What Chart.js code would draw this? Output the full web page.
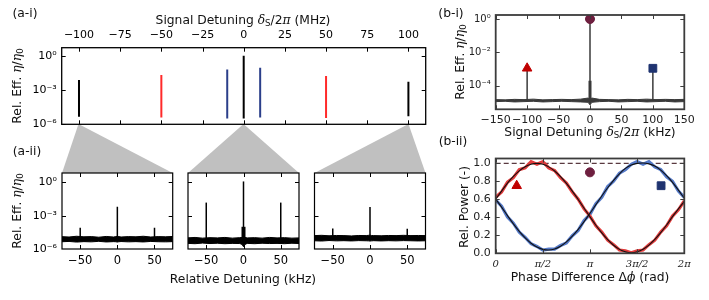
<!DOCTYPE html>
<html>
<head>
<meta charset="utf-8">
<script src="https://cdn.jsdelivr.net/npm/chart.js@4.4.1/dist/chart.umd.min.js"></script>
<style>
  html, body { margin: 0; padding: 0; background: #fff; }
  #fig { position: relative; width: 709px; height: 300px; overflow: hidden;
         font-family: 'DejaVu Sans', sans-serif; color: #111; }
  #fig canvas, #fig svg { position: absolute; left: 0; top: 0; }
  .lbl { position: absolute; font-size: 12.3px; white-space: nowrap; line-height: 1;
         transform: translate(-50%, -50%); }
  .rot { transform: translate(-50%, -50%) rotate(-90deg); }
  .m { font-family: 'DejaVu Serif', serif; font-style: italic; }
  sub { font-size: 70%; vertical-align: -0.3em; line-height: 0; }
</style>
</head>
<body>
<div id="fig">
  <svg width="709" height="300">
    <polygon points="78.5,124 62,173 172.7,173" fill="#c0c0c0"/>
    <polygon points="243.5,124 188,173 299,173" fill="#c0c0c0"/>
    <polygon points="408.5,124 314.5,173 425.5,173" fill="#c0c0c0"/>
  </svg>
  <canvas id="ai" width="709" height="300"></canvas>
  <canvas id="aii1" width="709" height="300"></canvas>
  <canvas id="aii2" width="709" height="300"></canvas>
  <canvas id="aii3" width="709" height="300"></canvas>
  <canvas id="bi" width="709" height="300"></canvas>
  <canvas id="bii" width="709" height="300"></canvas>

  <div class="lbl" style="left:25px;top:13px">(a-i)</div>
  <div class="lbl" style="left:243px;top:20px">Signal Detuning <span class="m">δ</span><sub>S</sub>/2<span class="m">π</span> (MHz)</div>
  <div class="lbl rot" style="left:17px;top:86px">Rel. Eff. <span class="m">η</span>/<span class="m">η</span><sub>0</sub></div>
  <div class="lbl" style="left:27px;top:151px">(a-ii)</div>
  <div class="lbl rot" style="left:17px;top:211px">Rel. Eff. <span class="m">η</span>/<span class="m">η</span><sub>0</sub></div>
  <div class="lbl" style="left:243px;top:279px">Relative Detuning (kHz)</div>
  <div class="lbl" style="left:451px;top:13px">(b-i)</div>
  <div class="lbl rot" style="left:460px;top:62px">Rel. Eff. <span class="m">η</span>/<span class="m">η</span><sub>0</sub></div>
  <div class="lbl" style="left:590px;top:132px">Signal Detuning <span class="m">δ</span><sub>S</sub>/2<span class="m">π</span> (kHz)</div>
  <div class="lbl" style="left:453px;top:141px">(b-ii)</div>
  <div class="lbl rot" style="left:464px;top:207px">Rel. Power (-)</div>
  <div class="lbl" style="left:590px;top:277px">Phase Difference Δ<span class="m">ϕ</span> (rad)</div>
</div>

<script>
// ---- (a-i) comb of generated lines, signal detuning in MHz ----
const combX      = [-100, -50, -10, 0, 10, 50, 100];
const combTop    = [7.4e-3, 2.0e-2, 6.3e-2, 1.0, 8.9e-2, 1.7e-2, 5.2e-3];
const combBottom = [4.5e-6, 4.0e-6, 3.2e-6, 3.2e-6, 4.0e-6, 3.6e-6, 5.0e-6];
const combTicks  = [-100, -75, -50, -25, 0, 25, 50, 75, 100];
const effTicksA  = [1e-6, 1e-3, 1];

// ---- (a-ii) zoomed spectra around -100, 0, +100 MHz, detuning in kHz ----
const zoomX      = [-75, -65, -55, -45, -35, -25, -15, -5, -2, 0, 2, 5, 15, 25, 35, 45, 55, 65, 75];
const zoomTicks  = [-50, 0, 50];
const peakX      = [-50, 0, 50];
const z1Upper = [1.3e-5, 1.2e-5, 1.4e-5, 1.25e-5, 1.3e-5, 1.15e-5, 1.35e-5, 1.2e-5, 1.3e-5, 1.4e-5, 1.3e-5, 1.2e-5, 1.3e-5, 1.25e-5, 1.4e-5, 1.2e-5, 1.3e-5, 1.25e-5, 1.35e-5];
const z1Lower = [4.5e-6, 4.8e-6, 4.2e-6, 4.6e-6, 4.4e-6, 4.9e-6, 4.3e-6, 4.6e-6, 4.5e-6, 4.2e-6, 4.5e-6, 4.7e-6, 4.4e-6, 4.6e-6, 4.3e-6, 4.8e-6, 4.5e-6, 4.4e-6, 4.6e-6];
const z1Peaks = [8e-5, 6.5e-3, 8e-5];
const z2Upper = [1.0e-5, 1.1e-5, 0.95e-5, 1.05e-5, 1.0e-5, 1.1e-5, 0.95e-5, 1.05e-5, 1.1e-5, 1.2e-5, 1.1e-5, 1.0e-5, 1.05e-5, 0.95e-5, 1.1e-5, 1.0e-5, 1.05e-5, 0.95e-5, 1.0e-5];
const z2Lower = [3.2e-6, 3.0e-6, 3.4e-6, 3.1e-6, 3.3e-6, 3.0e-6, 3.2e-6, 3.1e-6, 2.6e-6, 1.6e-6, 2.6e-6, 3.2e-6, 3.0e-6, 3.3e-6, 3.1e-6, 3.2e-6, 3.0e-6, 3.3e-6, 3.1e-6];
const z2Peaks = [1.5e-2, 1.2, 1.5e-2];
const z2Shoulder = 1.0e-4;
const z3Upper = [1.6e-5, 1.7e-5, 1.55e-5, 1.65e-5, 1.6e-5, 1.5e-5, 1.65e-5, 1.6e-5, 1.7e-5, 1.75e-5, 1.65e-5, 1.6e-5, 1.55e-5, 1.65e-5, 1.6e-5, 1.7e-5, 1.6e-5, 1.65e-5, 1.6e-5];
const z3Lower = [5.5e-6, 5.2e-6, 5.8e-6, 5.4e-6, 5.6e-6, 5.3e-6, 5.7e-6, 5.5e-6, 5.4e-6, 5.2e-6, 5.4e-6, 5.6e-6, 5.3e-6, 5.6e-6, 5.4e-6, 5.7e-6, 5.5e-6, 5.3e-6, 5.5e-6];
const z3Peaks = [7e-5, 6e-3, 6.5e-5];

// ---- (b-i) spectrum, kHz ----
const biX     = [-150, -135, -120, -105, -90, -75, -60, -45, -30, -15, -3, 0, 3, 15, 30, 45, 60, 75, 90, 105, 120, 135, 150];
const biUpper = [1.45e-5, 1.4e-5, 1.5e-5, 1.45e-5, 1.55e-5, 1.4e-5, 1.45e-5, 1.5e-5, 1.45e-5, 1.55e-5, 1.8e-5, 1.5e-5, 1.8e-5, 1.5e-5, 1.45e-5, 1.4e-5, 1.5e-5, 1.45e-5, 1.55e-5, 1.45e-5, 1.5e-5, 1.45e-5, 1.5e-5];
const biLower = [1.1e-5, 1.15e-5, 1.05e-5, 1.1e-5, 1.15e-5, 1.05e-5, 1.1e-5, 1.15e-5, 1.1e-5, 1.05e-5, 1.0e-5, 0.7e-5, 1.0e-5, 1.1e-5, 1.15e-5, 1.05e-5, 1.1e-5, 1.15e-5, 1.05e-5, 1.1e-5, 1.15e-5, 1.05e-5, 1.1e-5];
const biPeakX = [-100, 0, 100];
const biPeakY = [1.1e-3, 1.0, 1.1e-3];
const biShoulder = 2.0e-4;
const biXTicks = [-150, -100, -50, 0, 50, 100, 150];
const effTicksB = [1e-4, 1e-2, 1];

// ---- (b-ii) output power vs phase difference ----
const phaseX = [0, 0.196, 0.393, 0.589, 0.785, 0.982, 1.178, 1.374, 1.571, 1.767, 1.963, 2.160, 2.356, 2.553, 2.749, 2.945,
                3.142, 3.338, 3.534, 3.731, 3.927, 4.123, 4.320, 4.516, 4.712, 4.909, 5.105, 5.301, 5.498, 5.694, 5.890, 6.087, 6.283];
const redFit  = [0.60, 0.69, 0.78, 0.855, 0.917, 0.963, 0.991, 1.0, 0.99, 0.961, 0.915, 0.852, 0.776, 0.69, 0.596, 0.498,
                 0.401, 0.307, 0.221, 0.145, 0.083, 0.037, 0.01, 0.0, 0.01, 0.039, 0.085, 0.148, 0.224, 0.31, 0.404, 0.49, 0.575];
const redMeas = [0.62, 0.68, 0.79, 0.84, 0.93, 0.95, 1.02, 0.99, 1.02, 0.95, 0.92, 0.84, 0.78, 0.68, 0.60, 0.49,
                 0.41, 0.30, 0.23, 0.14, 0.09, 0.03, 0.02, 0.0, 0.02, 0.03, 0.09, 0.14, 0.23, 0.30, 0.41, 0.48, 0.58];
const blueFit  = [0.60, 0.51, 0.415, 0.323, 0.239, 0.166, 0.106, 0.063, 0.037, 0.03, 0.042, 0.073, 0.121, 0.185, 0.261, 0.348,
                  0.442, 0.538, 0.635, 0.727, 0.811, 0.884, 0.944, 0.982, 1.0, 1.005, 0.995, 0.97, 0.925, 0.862, 0.787, 0.70, 0.61];
const blueMeas = [0.59, 0.52, 0.40, 0.33, 0.23, 0.17, 0.10, 0.07, 0.03, 0.04, 0.04, 0.08, 0.11, 0.19, 0.25, 0.36,
                  0.43, 0.55, 0.62, 0.74, 0.80, 0.89, 0.93, 0.99, 1.02, 0.99, 1.02, 0.96, 0.93, 0.85, 0.80, 0.69, 0.62];
const sumLevel = 1.0;
const phaseTicks  = [0, 1.5708, 3.1416, 4.7124, 6.2832];
const phaseLabels = ['0', 'π/2', 'π', '3π/2', '2π'];
const powerTicks  = [0, 0.2, 0.4, 0.6, 0.8, 1.0];
const markerX = [0.70, 3.14, 5.51];
const markerY = [0.75, 0.90, 0.75];

const W = 709, H = 300;
const AXIS_W = 40, AXIS_H = 20;   // fixed room for tick labels
const RED = '#c00000', MAROON = '#6e1f3f', NAVY = '#1f3370';

// matplotlib-like look: frame box with ticks pointing inwards on all sides
const framePlugin = {
  id: 'frame',
  afterDatasetsDraw(chart, args, opts) {
    const { ctx, chartArea: a, scales } = chart;
    ctx.save();
    ctx.strokeStyle = opts.color;
    ctx.lineWidth = opts.width;
    ctx.strokeRect(a.left, a.top, a.right - a.left, a.bottom - a.top);
    ctx.lineWidth = 1;
    ctx.beginPath();
    (opts.xTicks || []).forEach(v => {
      const px = Math.round(scales.x.getPixelForValue(v)) + 0.5;
      ctx.moveTo(px, a.bottom); ctx.lineTo(px, a.bottom - opts.len);
      ctx.moveTo(px, a.top); ctx.lineTo(px, a.top + opts.len);
    });
    (opts.yTicks || []).forEach(v => {
      const py = Math.round(scales.y.getPixelForValue(v)) + 0.5;
      ctx.moveTo(a.left, py); ctx.lineTo(a.left + opts.len, py);
      ctx.moveTo(a.right, py); ctx.lineTo(a.right - opts.len, py);
    });
    ctx.stroke();
    ctx.restore();
  }
};

// every axis gets a fixed size, so the chart area is set by the layout padding
function fixedFit(scale) {
  if (scale.isHorizontal()) scale.height = AXIS_H; else scale.width = AXIS_W;
  scale.paddingLeft = scale.paddingRight = scale.paddingTop = scale.paddingBottom = 0;
}

function axis(opts, tickValues) {
  return Object.assign({
    bounds: 'data',
    grid: { display: false, drawTicks: false },
    border: { display: false },
    afterFit: fixedFit,
    afterBuildTicks: s => { s.ticks = tickValues.map(v => ({ value: v })); }
  }, opts);
}

const minus = v => String(v).replace('-', '\u2212');
const sup = { '0': '\u2070', '1': '\u00b9', '2': '\u00b2', '3': '\u00b3', '4': '\u2074', '5': '\u2075', '6': '\u2076', '-': '\u207b' };
const expLabel = v => '10' + String(Math.round(Math.log10(v))).split('').map(c => sup[c]).join('');

// area = [left, top, right, bottom] of the plot frame in page pixels
function makeChart(id, area, datasets, scales, frame, xOnTop) {
  const padding = {
    left: area[0] - AXIS_W,
    top: area[1] - (xOnTop ? AXIS_H : 0),
    right: W - area[2],
    bottom: H - area[3] - (xOnTop ? 0 : AXIS_H)
  };
  return new Chart(document.getElementById(id), {
    type: 'scatter',
    data: { datasets },
    options: {
      responsive: false,
      animation: false,
      devicePixelRatio: 1,
      layout: { padding },
      plugins: { legend: { display: false }, tooltip: { enabled: false }, frame },
      scales
    },
    plugins: [framePlugin]
  });
}

const seg = (x, y0, y1, color, width) => ({
  data: [{ x, y: y0 }, { x, y: y1 }], showLine: true, pointRadius: 0,
  borderColor: color, borderWidth: width
});
const zip = (xs, ys) => xs.map((x, i) => ({ x, y: ys[i] }));

Chart.defaults.font.family = "'DejaVu Sans', sans-serif";
Chart.defaults.font.size = 11;
Chart.defaults.color = '#000';

// (a-i)
const combColors = ['#000', '#ff2a2a', '#2b3f8a', '#000', '#2b3f8a', '#ff2a2a', '#000'];
makeChart('ai', [61.7, 47.7, 425.7, 124.3],
  combX.map((x, i) => seg(x, combBottom[i], combTop[i], combColors[i], 2)),
  {
    x: axis({ type: 'linear', position: 'top', min: -110.5, max: 110.5,
              ticks: { padding: 6, maxRotation: 0, autoSkip: false, callback: v => minus(v) } }, combTicks),
    y: axis({ type: 'logarithmic', min: 1e-6, max: 5.0,
              ticks: { padding: 5, autoSkip: false, callback: v => expLabel(v) } }, effTicksA)
  },
  { color: '#000', width: 1.3, len: 4, xTicks: combTicks, yTicks: effTicksA }, true);

// (a-ii)
function zoomPanel(id, left, right, upper, lower, peaks, showY, extra) {
  const sets = [
    ...peaks.map((p, i) => seg(peakX[i], 7e-6, p, '#000', 1.5)),
    ...(extra || []),
    { data: zip(zoomX, upper), showLine: true, pointRadius: 0, borderColor: '#000', borderWidth: 1,
      fill: '+1', backgroundColor: '#000' },
    { data: zip(zoomX, lower), showLine: true, pointRadius: 0, borderColor: '#000', borderWidth: 1 }
  ];
  makeChart(id, [left, 173, right, 249], sets, {
    x: axis({ type: 'linear', min: -74.5, max: 74.5,
              ticks: { padding: 5, maxRotation: 0, autoSkip: false, font: { size: 11.5 }, callback: v => minus(v) } }, zoomTicks),
    y: axis({ type: 'logarithmic', min: 1e-6, max: 6.9,
              ticks: { display: showY, padding: 5, autoSkip: false, callback: v => expLabel(v) } }, effTicksA)
  }, { color: '#000', width: 1.2, len: 4, xTicks: zoomTicks, yTicks: [1e-3, 1] });
}
zoomPanel('aii1', 62, 172.7, z1Upper, z1Lower, z1Peaks, true);
zoomPanel('aii2', 188, 299, z2Upper, z2Lower, z2Peaks, false, [seg(0, 3e-6, z2Shoulder, '#000', 4)]);
zoomPanel('aii3', 314.5, 425.5, z3Upper, z3Lower, z3Peaks, false);

// (b-i)
makeChart('bi', [495.7, 15, 684.3, 109.3], [
    { data: [{ x: biPeakX[0], y: biPeakY[0] }], pointStyle: 'triangle', pointRadius: 5.5,
      backgroundColor: RED, borderColor: RED },
    { data: [{ x: biPeakX[1], y: biPeakY[1] }], pointStyle: 'circle', pointRadius: 4.5,
      backgroundColor: MAROON, borderColor: MAROON },
    { data: [{ x: biPeakX[2], y: biPeakY[2] }], pointStyle: 'rect', pointRadius: 5.5,
      backgroundColor: NAVY, borderColor: NAVY },
    ...biPeakX.map((x, i) => seg(x, 1.25e-5, biPeakY[i], '#3a3a3a', 1.5)),
    seg(0, 1.2e-5, biShoulder, '#3a3a3a', 3),
    { data: zip(biX, biUpper), showLine: true, pointRadius: 0, borderColor: '#3a3a3a', borderWidth: 1,
      fill: '+1', backgroundColor: '#3a3a3a' },
    { data: zip(biX, biLower), showLine: true, pointRadius: 0, borderColor: '#3a3a3a', borderWidth: 1 }
  ],
  {
    x: axis({ type: 'linear', min: -150, max: 150,
              ticks: { padding: 4, maxRotation: 0, autoSkip: false, color: '#222', callback: v => minus(v) } }, biXTicks),
    y: axis({ type: 'logarithmic', min: 3.8e-6, max: 1.74,
              ticks: { padding: 5, autoSkip: false, color: '#222', font: { size: 10 }, callback: v => expLabel(v) } }, effTicksB)
  },
  { color: '#3c3c3c', width: 1.8, len: 4, xTicks: biXTicks, yTicks: effTicksB });

// (b-ii)
makeChart('bii', [495.7, 158.5, 684.3, 253.3], [
    { data: [{ x: markerX[0], y: markerY[0] }], pointStyle: 'triangle', pointRadius: 5.5,
      backgroundColor: RED, borderColor: RED },
    { data: [{ x: markerX[1], y: markerY[1] }], pointStyle: 'circle', pointRadius: 4.5,
      backgroundColor: MAROON, borderColor: MAROON },
    { data: [{ x: markerX[2], y: markerY[2] }], pointStyle: 'rect', pointRadius: 5.5,
      backgroundColor: NAVY, borderColor: NAVY },
    { data: zip(phaseX, redFit), showLine: true, pointRadius: 0, borderColor: '#111', borderWidth: 1.1, tension: 0.35 },
    { data: zip(phaseX, blueFit), showLine: true, pointRadius: 0, borderColor: '#111', borderWidth: 1.1, tension: 0.35 },
    { data: zip(phaseX, redMeas), showLine: true, pointRadius: 0, borderColor: '#e23c3c', borderWidth: 3.2 },
    { data: zip(phaseX, blueMeas), showLine: true, pointRadius: 0, borderColor: '#5479c8', borderWidth: 3.2 },
    { data: [{ x: 0, y: sumLevel }, { x: 6.2832, y: sumLevel }], showLine: true, pointRadius: 0,
      borderColor: '#5a3a40', borderWidth: 1.2, borderDash: [5, 3] }
  ],
  {
    x: axis({ type: 'linear', min: 0, max: 6.2832,
              ticks: { padding: 5, maxRotation: 0, autoSkip: false, color: '#222',
                       font: { family: "'DejaVu Serif', serif", style: 'italic', size: 10 },
                       callback: (v, i) => phaseLabels[i] } }, phaseTicks),
    y: axis({ type: 'linear', min: -0.007, max: 1.055,
              ticks: { padding: 5, autoSkip: false, color: '#222', callback: v => v.toFixed(1) } }, powerTicks)
  },
  { color: '#3c3c3c', width: 1.8, len: 4, xTicks: phaseTicks, yTicks: powerTicks });
</script>
</body>
</html>
